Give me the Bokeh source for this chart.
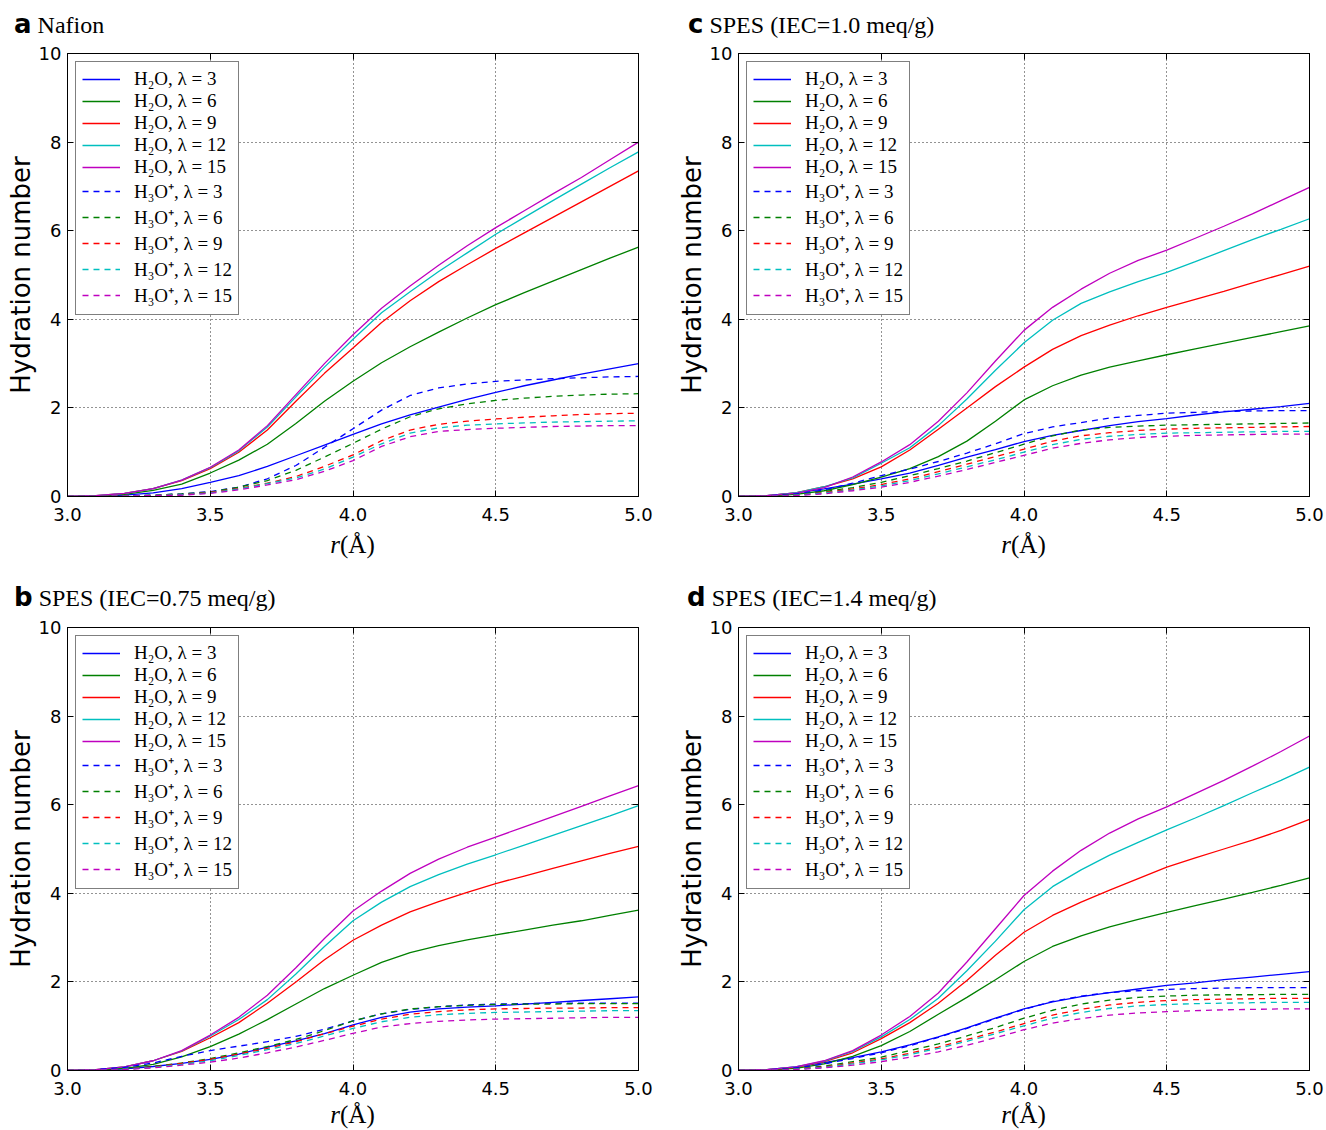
from bokeh.plotting import figure
from bokeh.layouts import column, row
from bokeh.models import (Range1d, FixedTicker, NumeralTickFormatter, LinearAxis,
                          CustomJSTickFormatter, Div)
from bokeh.embed import file_html
from bokeh.resources import INLINE

# ---------------- data ----------------
R = [3.0, 3.1, 3.2, 3.3, 3.4, 3.5, 3.6, 3.7, 3.8, 3.9, 4.0,
     4.1, 4.2, 4.3, 4.4, 4.5, 4.6, 4.7, 4.8, 4.9, 5.0]
LAMBDAS = [3, 6, 9, 12, 15]
COLORS = ["#0000ff", "#008000", "#ff0000", "#00bfbf", "#bf00bf"]
X_TICKS = [3.0, 3.5, 4.0, 4.5, 5.0]
Y_TICKS = [0, 2, 4, 6, 8, 10]

# (a) Nafion
naf_h2o_3 = [0, 0.01, 0.03, 0.08, 0.18, 0.32, 0.47, 0.68, 0.92, 1.16, 1.4, 1.64, 1.84, 2.02, 2.19, 2.35, 2.5, 2.63, 2.76, 2.88, 3.0]
naf_h2o_6 = [0, 0.01, 0.05, 0.14, 0.28, 0.53, 0.82, 1.18, 1.65, 2.15, 2.6, 3.02, 3.38, 3.71, 4.03, 4.33, 4.6, 4.86, 5.12, 5.38, 5.63]
naf_h2o_9 = [0, 0.02, 0.07, 0.18, 0.36, 0.63, 1.0, 1.5, 2.15, 2.78, 3.35, 3.93, 4.42, 4.85, 5.23, 5.6, 5.95, 6.3, 6.65, 7.0, 7.35]
naf_h2o_12 = [0, 0.02, 0.07, 0.18, 0.37, 0.65, 1.03, 1.57, 2.25, 2.92, 3.55, 4.15, 4.62, 5.08, 5.5, 5.92, 6.3, 6.68, 7.05, 7.42, 7.78]
naf_h2o_15 = [0, 0.02, 0.07, 0.18, 0.37, 0.66, 1.05, 1.6, 2.3, 3.0, 3.65, 4.25, 4.75, 5.22, 5.66, 6.07, 6.45, 6.83, 7.2, 7.6, 8.0]
naf_h3o_3 = [0, 0, 0.01, 0.03, 0.06, 0.11, 0.21, 0.4, 0.7, 1.11, 1.53, 1.95, 2.28, 2.45, 2.54, 2.6, 2.63, 2.66, 2.68, 2.7, 2.71]
naf_h3o_6 = [0, 0, 0.01, 0.03, 0.06, 0.1, 0.21, 0.36, 0.59, 0.89, 1.2, 1.52, 1.8, 1.98, 2.09, 2.17, 2.22, 2.26, 2.29, 2.31, 2.32]
naf_h3o_9 = [0, 0, 0.01, 0.02, 0.04, 0.09, 0.18, 0.3, 0.45, 0.68, 0.94, 1.26, 1.5, 1.63, 1.7, 1.75, 1.79, 1.82, 1.85, 1.87, 1.88]
naf_h3o_12 = [0, 0, 0.01, 0.02, 0.04, 0.08, 0.17, 0.29, 0.42, 0.62, 0.89, 1.19, 1.43, 1.55, 1.61, 1.64, 1.66, 1.68, 1.69, 1.7, 1.71]
naf_h3o_15 = [0, 0, 0.01, 0.02, 0.03, 0.07, 0.15, 0.26, 0.38, 0.57, 0.81, 1.13, 1.35, 1.47, 1.51, 1.54, 1.56, 1.58, 1.59, 1.6, 1.6]

# (b) SPES IEC=0.75
s075_h2o_3 = [0, 0.01, 0.04, 0.09, 0.16, 0.25, 0.37, 0.53, 0.67, 0.83, 1.03, 1.2, 1.32, 1.39, 1.43, 1.46, 1.5, 1.54, 1.58, 1.62, 1.66]
s075_h2o_6 = [0, 0.01, 0.05, 0.14, 0.31, 0.54, 0.82, 1.15, 1.5, 1.85, 2.15, 2.44, 2.66, 2.82, 2.95, 3.06, 3.17, 3.28, 3.38, 3.5, 3.62]
s075_h2o_9 = [0, 0.02, 0.08, 0.22, 0.43, 0.74, 1.08, 1.52, 2.0, 2.5, 2.94, 3.28, 3.58, 3.81, 4.02, 4.22, 4.39, 4.56, 4.73, 4.9, 5.06]
s075_h2o_12 = [0, 0.02, 0.08, 0.22, 0.44, 0.78, 1.15, 1.6, 2.18, 2.8, 3.38, 3.8, 4.15, 4.42, 4.66, 4.87, 5.09, 5.31, 5.53, 5.75, 5.98]
s075_h2o_15 = [0, 0.02, 0.08, 0.22, 0.45, 0.8, 1.2, 1.7, 2.32, 2.98, 3.6, 4.05, 4.45, 4.77, 5.04, 5.27, 5.5, 5.73, 5.96, 6.2, 6.43]
s075_h3o_3 = [0, 0.02, 0.07, 0.17, 0.32, 0.45, 0.55, 0.65, 0.77, 0.93, 1.12, 1.28, 1.38, 1.44, 1.48, 1.5, 1.51, 1.52, 1.52, 1.52, 1.52]
s075_h3o_6 = [0, 0.01, 0.03, 0.09, 0.17, 0.27, 0.4, 0.54, 0.7, 0.9, 1.12, 1.28, 1.39, 1.44, 1.47, 1.49, 1.5, 1.5, 1.51, 1.51, 1.51]
s075_h3o_9 = [0, 0.01, 0.03, 0.08, 0.16, 0.25, 0.37, 0.5, 0.65, 0.83, 1.0, 1.16, 1.27, 1.33, 1.37, 1.39, 1.4, 1.41, 1.41, 1.42, 1.42]
s075_h3o_12 = [0, 0.01, 0.03, 0.07, 0.14, 0.22, 0.34, 0.47, 0.61, 0.78, 0.95, 1.1, 1.2, 1.26, 1.29, 1.31, 1.32, 1.33, 1.34, 1.35, 1.35]
s075_h3o_15 = [0, 0.01, 0.02, 0.06, 0.12, 0.19, 0.28, 0.4, 0.53, 0.68, 0.84, 0.98, 1.06, 1.11, 1.14, 1.16, 1.17, 1.18, 1.19, 1.2, 1.2]

# (c) SPES IEC=1.0
s10_h2o_3 = [0, 0.02, 0.08, 0.17, 0.28, 0.4, 0.53, 0.7, 0.89, 1.06, 1.24, 1.38, 1.49, 1.6, 1.69, 1.76, 1.84, 1.91, 1.97, 2.03, 2.1]
s10_h2o_6 = [0, 0.01, 0.05, 0.13, 0.27, 0.44, 0.63, 0.9, 1.25, 1.7, 2.18, 2.5, 2.74, 2.92, 3.06, 3.2, 3.33, 3.46, 3.59, 3.72, 3.85]
s10_h2o_9 = [0, 0.02, 0.08, 0.22, 0.4, 0.67, 1.05, 1.52, 2.0, 2.48, 2.92, 3.32, 3.63, 3.87, 4.08, 4.27, 4.45, 4.63, 4.82, 5.01, 5.2]
s10_h2o_12 = [0, 0.02, 0.08, 0.22, 0.42, 0.75, 1.1, 1.6, 2.2, 2.85, 3.47, 3.98, 4.36, 4.62, 4.85, 5.06, 5.3, 5.55, 5.8, 6.03, 6.27]
s10_h2o_15 = [0, 0.02, 0.07, 0.2, 0.44, 0.78, 1.17, 1.7, 2.34, 3.06, 3.75, 4.27, 4.68, 5.04, 5.33, 5.56, 5.83, 6.1, 6.38, 6.68, 6.98]
s10_h3o_3 = [0, 0.01, 0.06, 0.15, 0.3, 0.47, 0.62, 0.79, 0.98, 1.19, 1.42, 1.57, 1.67, 1.77, 1.83, 1.88, 1.9, 1.92, 1.93, 1.94, 1.94]
s10_h3o_6 = [0, 0.01, 0.04, 0.11, 0.2, 0.32, 0.47, 0.63, 0.8, 0.99, 1.18, 1.37, 1.5, 1.56, 1.59, 1.61, 1.62, 1.63, 1.64, 1.65, 1.66]
s10_h3o_9 = [0, 0.01, 0.03, 0.09, 0.17, 0.27, 0.4, 0.56, 0.73, 0.9, 1.07, 1.25, 1.37, 1.44, 1.49, 1.52, 1.54, 1.55, 1.56, 1.57, 1.58]
s10_h3o_12 = [0, 0.01, 0.03, 0.08, 0.15, 0.24, 0.36, 0.51, 0.67, 0.83, 1.0, 1.17, 1.29, 1.36, 1.4, 1.43, 1.44, 1.45, 1.46, 1.47, 1.47]
s10_h3o_15 = [0, 0.01, 0.02, 0.06, 0.13, 0.21, 0.32, 0.46, 0.61, 0.77, 0.93, 1.09, 1.2, 1.28, 1.33, 1.36, 1.38, 1.39, 1.4, 1.41, 1.41]

# (d) SPES IEC=1.4
s14_h2o_3 = [0, 0.02, 0.08, 0.18, 0.29, 0.42, 0.58, 0.76, 0.96, 1.18, 1.39, 1.55, 1.67, 1.76, 1.84, 1.92, 1.98, 2.05, 2.11, 2.17, 2.23]
s14_h2o_6 = [0, 0.01, 0.05, 0.15, 0.32, 0.56, 0.88, 1.27, 1.65, 2.05, 2.46, 2.8, 3.04, 3.24, 3.41, 3.57, 3.72, 3.87, 4.02, 4.18, 4.35]
s14_h2o_9 = [0, 0.02, 0.07, 0.2, 0.4, 0.72, 1.08, 1.52, 2.03, 2.6, 3.12, 3.5, 3.8, 4.07, 4.33, 4.59, 4.8, 5.0, 5.2, 5.42, 5.67]
s14_h2o_12 = [0, 0.02, 0.08, 0.21, 0.43, 0.76, 1.15, 1.63, 2.25, 2.92, 3.63, 4.15, 4.53, 4.86, 5.15, 5.43, 5.7, 5.98, 6.27, 6.55, 6.85]
s14_h2o_15 = [0, 0.02, 0.08, 0.22, 0.45, 0.8, 1.22, 1.75, 2.45, 3.2, 3.95, 4.5, 4.97, 5.36, 5.68, 5.95, 6.25, 6.55, 6.87, 7.2, 7.55]
s14_h3o_3 = [0, 0.01, 0.06, 0.15, 0.27, 0.4, 0.56, 0.75, 0.95, 1.17, 1.38, 1.56, 1.68, 1.76, 1.8, 1.83, 1.85, 1.86, 1.87, 1.87, 1.87]
s14_h3o_6 = [0, 0.01, 0.04, 0.1, 0.2, 0.3, 0.45, 0.6, 0.78, 0.97, 1.18, 1.36, 1.5, 1.59, 1.65, 1.68, 1.7, 1.71, 1.71, 1.72, 1.72]
s14_h3o_9 = [0, 0.01, 0.03, 0.08, 0.17, 0.26, 0.39, 0.53, 0.7, 0.87, 1.06, 1.25, 1.38, 1.48, 1.54, 1.58, 1.6, 1.61, 1.62, 1.63, 1.63]
s14_h3o_12 = [0, 0.01, 0.03, 0.07, 0.15, 0.24, 0.36, 0.5, 0.66, 0.83, 1.01, 1.18, 1.31, 1.4, 1.46, 1.49, 1.51, 1.52, 1.53, 1.54, 1.54]
s14_h3o_15 = [0, 0.01, 0.02, 0.06, 0.12, 0.2, 0.3, 0.42, 0.57, 0.74, 0.92, 1.07, 1.17, 1.25, 1.3, 1.33, 1.35, 1.37, 1.38, 1.39, 1.39]

SERIF = "Liberation Serif"
SANS = "DejaVu Sans"
FRAME_W = 571
FRAME_H = 443


def style_axis(ax, show_labels):
    ax.major_tick_in = 6
    ax.major_tick_out = 0
    ax.minor_tick_line_color = None
    ax.axis_line_color = "black"
    ax.axis_line_width = 1
    ax.major_tick_line_color = "black"
    ax.major_tick_line_width = 1
    if not show_labels:
        ax.formatter = CustomJSTickFormatter(code="return ''")
        ax.major_label_standoff = 0
        ax.major_label_text_font_size = "1px"


def make_panel(letter, title, h2o, h3o, bl, br, title_h, title_pt, title_pl,
               xl_h, xl_pt):
    total_w = bl + FRAME_W + br
    p = figure(frame_width=FRAME_W, frame_height=FRAME_H,
               x_range=Range1d(3.0, 5.0), y_range=Range1d(0, 10),
               output_backend="svg", toolbar_location=None,
               min_border_left=bl, min_border_right=br,
               min_border_top=12, min_border_bottom=35,
               background_fill_color="white", border_fill_color="white")
    p.outline_line_color = "black"
    p.outline_line_width = 1

    for lam, col, ys in zip(LAMBDAS, COLORS, h2o):
        p.line(R, ys, line_color=col, line_width=1.3,
               legend_label=f"H\u2082O, \u03bb = {lam}")
    for lam, col, ys in zip(LAMBDAS, COLORS, h3o):
        p.line(R, ys, line_color=col, line_width=1.3, line_dash="6 5",
               legend_label=f"H\u2083O\u207a, \u03bb = {lam}")

    xt = FixedTicker(ticks=X_TICKS)
    yt = FixedTicker(ticks=Y_TICKS)
    xa = p.xaxis[0]
    ya = p.yaxis[0]
    xa.ticker = xt
    ya.ticker = yt
    xa.formatter = NumeralTickFormatter(format="0.0")
    for ax in (xa, ya):
        style_axis(ax, True)
        ax.major_label_text_font = SANS
        ax.major_label_text_font_size = "18px"
        ax.major_label_text_color = "black"
    xa.major_label_standoff = 11
    ya.major_label_standoff = 6
    ya.axis_label = "Hydration number"
    ya.axis_label_text_font = SANS
    ya.axis_label_text_font_size = "26px"
    ya.axis_label_text_font_style = "normal"
    ya.axis_label_text_color = "black"
    ya.axis_label_standoff = 0

    top = LinearAxis(ticker=FixedTicker(ticks=X_TICKS))
    style_axis(top, False)
    p.add_layout(top, "above")
    right = LinearAxis(ticker=FixedTicker(ticks=Y_TICKS))
    style_axis(right, False)
    p.add_layout(right, "right")

    p.xgrid.ticker = xt
    p.ygrid.ticker = yt
    for g in (p.xgrid[0], p.ygrid[0]):
        g.grid_line_color = "black"
        g.grid_line_dash = "1 3"
        g.grid_line_width = 1
        g.grid_line_alpha = 0.85

    lg = p.legend[0]
    lg.location = "top_left"
    lg.margin = 8
    lg.padding = 6
    lg.spacing = 0
    lg.label_height = 22
    lg.glyph_height = 22
    lg.glyph_width = 38
    lg.label_standoff = 14
    lg.label_text_font = SERIF
    lg.label_text_font_size = "19px"
    lg.label_text_color = "black"
    lg.border_line_color = "black"
    lg.border_line_width = 1.2
    lg.background_fill_color = "white"
    lg.background_fill_alpha = 1.0

    title_html = (
        f'<div style="padding-top:{title_pt}px; padding-left:{title_pl}px; '
        f'white-space:nowrap; line-height:28px; color:black; '
        f'font-family:\'{SERIF}\'; font-size:24px;">'
        f'<span style="font-family:\'{SANS}\'; font-weight:bold; font-size:26px;">{letter}</span>'
        f'&nbsp;{title}</div>'
    )
    title_div = Div(text=title_html, width=total_w, height=title_h, margin=0)

    xl_html = (
        f'<div style="padding-top:{xl_pt}px; margin-left:{bl}px; width:{FRAME_W}px; '
        f'text-align:center; white-space:nowrap; line-height:20px; color:black; '
        f'font-family:\'{SERIF}\'; font-size:25px;"><i>r</i>(\u00c5)</div>'
    )
    xl_div = Div(text=xl_html, width=total_w, height=xl_h, margin=0)
    return column(title_div, p, xl_div)


pa = make_panel("a", "Nafion",
                [naf_h2o_3, naf_h2o_6, naf_h2o_9, naf_h2o_12, naf_h2o_15],
                [naf_h3o_3, naf_h3o_6, naf_h3o_9, naf_h3o_12, naf_h3o_15],
                67, 20, 41, 10, 14, 44, 4)
pc = make_panel("c", "SPES (IEC=1.0 meq/g)",
                [s10_h2o_3, s10_h2o_6, s10_h2o_9, s10_h2o_12, s10_h2o_15],
                [s10_h3o_3, s10_h3o_6, s10_h3o_9, s10_h3o_12, s10_h3o_15],
                80, 16, 41, 10, 30, 44, 4)
pb = make_panel("b", "SPES (IEC=0.75 meq/g)",
                [s075_h2o_3, s075_h2o_6, s075_h2o_9, s075_h2o_12, s075_h2o_15],
                [s075_h3o_3, s075_h3o_6, s075_h3o_9, s075_h3o_12, s075_h3o_15],
                67, 20, 40, 8, 14, 24, 0)
pd = make_panel("d", "SPES (IEC=1.4 meq/g)",
                [s14_h2o_3, s14_h2o_6, s14_h2o_9, s14_h2o_12, s14_h2o_15],
                [s14_h3o_3, s14_h3o_6, s14_h3o_9, s14_h3o_12, s14_h3o_15],
                80, 16, 40, 8, 29, 24, 0)

layout = column(row(pa, pc), row(pb, pd))
open("out.html", "w").write(file_html(layout, INLINE))
